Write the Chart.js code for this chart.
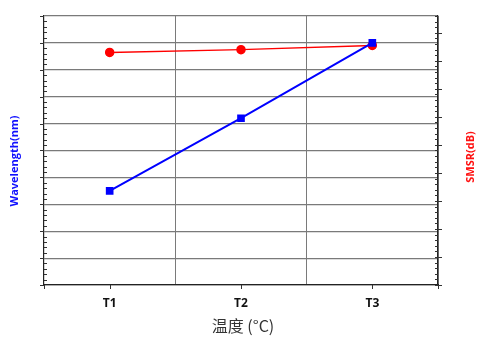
<!DOCTYPE html>
<html>
<head>
<meta charset="utf-8">
<script src="https://cdn.jsdelivr.net/npm/chart.js@4.4.0/dist/chart.umd.min.js"></script>
<style>
  html, body { margin: 0; padding: 0; background: #fff; }
  #wrap { width: 491px; height: 338px; }
</style>
</head>
<body>
<div id="wrap"><canvas id="chart" width="491" height="338"></canvas></div>
<script>
// data (axes have no numbers, so arbitrary units)
const categories = ['T1', 'T2', 'T3'];
const wavelength = [3.5, 6.2, 9.0];   // left axis, 0..10
const smsr = [8.3, 8.4, 8.55];        // right axis, 0..9.6

const xTitle = '温度 (°C)';
const leftTitle = 'Wavelength(nm)';
const rightTitle = 'SMSR(dB)';

// ticks + rotated titles drawn by hand (minor ticks, right title reads bottom-up)
const axisDecor = {
    id: 'axisDecor',
    afterDraw(chart) {
        const ctx = chart.ctx;
        const y = chart.scales.y, y1 = chart.scales.y1, x = chart.scales.x;
        const area = chart.chartArea;
        ctx.save();
        ctx.strokeStyle = '#333';
        ctx.lineWidth = 1;
        ctx.beginPath();
        // left axis
        for (let v = 0; v <= 10; v += 0.2) {
            const py = Math.round(y.getPixelForValue(v)) + 0.5;
            const major = Math.abs(v - Math.round(v)) < 0.01;
            if (major) {
                ctx.moveTo(area.left - 4, py); ctx.lineTo(area.left, py);
            } else {
                ctx.moveTo(area.left, py); ctx.lineTo(area.left + 3, py);
            }
        }
        // right axis
        for (let v = 0; v <= y1.max + 0.001; v += 0.2) {
            const py = Math.round(y1.getPixelForValue(v)) + 0.5;
            const major = Math.abs(v - Math.round(v)) < 0.01;
            if (major) {
                ctx.moveTo(area.right - 3, py); ctx.lineTo(area.right + 4, py);
            } else {
                ctx.moveTo(area.right - 3, py); ctx.lineTo(area.right, py);
            }
        }
        // bottom axis
        const xs = [area.left, area.right];
        categories.forEach((c, i) => xs.push(x.getPixelForValue(i)));
        xs.forEach(px => {
            const p = Math.round(px) + 0.5;
            ctx.moveTo(p, area.bottom); ctx.lineTo(p, area.bottom + 4);
        });
        ctx.stroke();

        // titles
        ctx.textAlign = 'center';
        ctx.textBaseline = 'middle';
        ctx.font = '16px "Noto Sans CJK SC", "Open Sans", sans-serif';
        ctx.fillStyle = '#333';
        ctx.fillText(xTitle, 243, 326);

        ctx.font = 'bold 11px "Open Sans", "DejaVu Sans", sans-serif';
        ctx.fillStyle = '#1010ff';
        ctx.translate(15, 161);
        ctx.rotate(-Math.PI / 2);
        ctx.fillText(leftTitle, 0, 0);
        ctx.setTransform(1, 0, 0, 1, 0, 0);

        ctx.fillStyle = '#ff1010';
        ctx.translate(471, 157);
        ctx.rotate(-Math.PI / 2);
        ctx.fillText(rightTitle, 0, 0);
        ctx.restore();
    }
};

new Chart(document.getElementById('chart'), {
    type: 'line',
    data: {
        labels: categories,
        datasets: [
            {
                label: leftTitle,
                data: wavelength,
                yAxisID: 'y',
                borderColor: '#0000ff',
                backgroundColor: '#0000ff',
                borderWidth: 2,
                pointStyle: 'rect',
                pointRadius: 4,
                tension: 0
            },
            {
                label: rightTitle,
                data: smsr,
                yAxisID: 'y1',
                borderColor: '#ff0000',
                backgroundColor: '#ff0000',
                borderWidth: 1.5,
                pointStyle: 'circle',
                pointRadius: 4,
                tension: 0
            }
        ]
    },
    options: {
        responsive: false,
        animation: false,
        layout: { padding: { top: 16, left: 0, right: 0, bottom: 0 } },
        plugins: {
            legend: { display: false },
            tooltip: { enabled: false }
        },
        scales: {
            x: {
                offset: true,
                grid: { offset: true, color: '#7a7a7a', lineWidth: 1, drawTicks: false },
                border: { color: '#222', width: 1.2 },
                ticks: {
                    padding: 11,
                    color: '#111',
                    font: { family: '"Open Sans", "DejaVu Sans", sans-serif', size: 12, weight: 'bold' }
                },
                afterFit(scale) { scale.height = 53; }
            },
            y: {
                position: 'left',
                min: 0,
                max: 10,
                ticks: { stepSize: 1, display: false },
                grid: { color: '#7a7a7a', lineWidth: 1.2, drawTicks: false },
                border: { color: '#222', width: 1.2 },
                afterFit(scale) { scale.width = 44; }
            },
            y1: {
                position: 'right',
                min: 0,
                max: 9.6,
                ticks: { stepSize: 1, display: false },
                grid: { drawOnChartArea: false, drawTicks: false },
                border: { color: '#222', width: 1.2 },
                afterFit(scale) { scale.width = 53; }
            }
        }
    },
    plugins: [axisDecor]
});
</script>
</body>
</html>
